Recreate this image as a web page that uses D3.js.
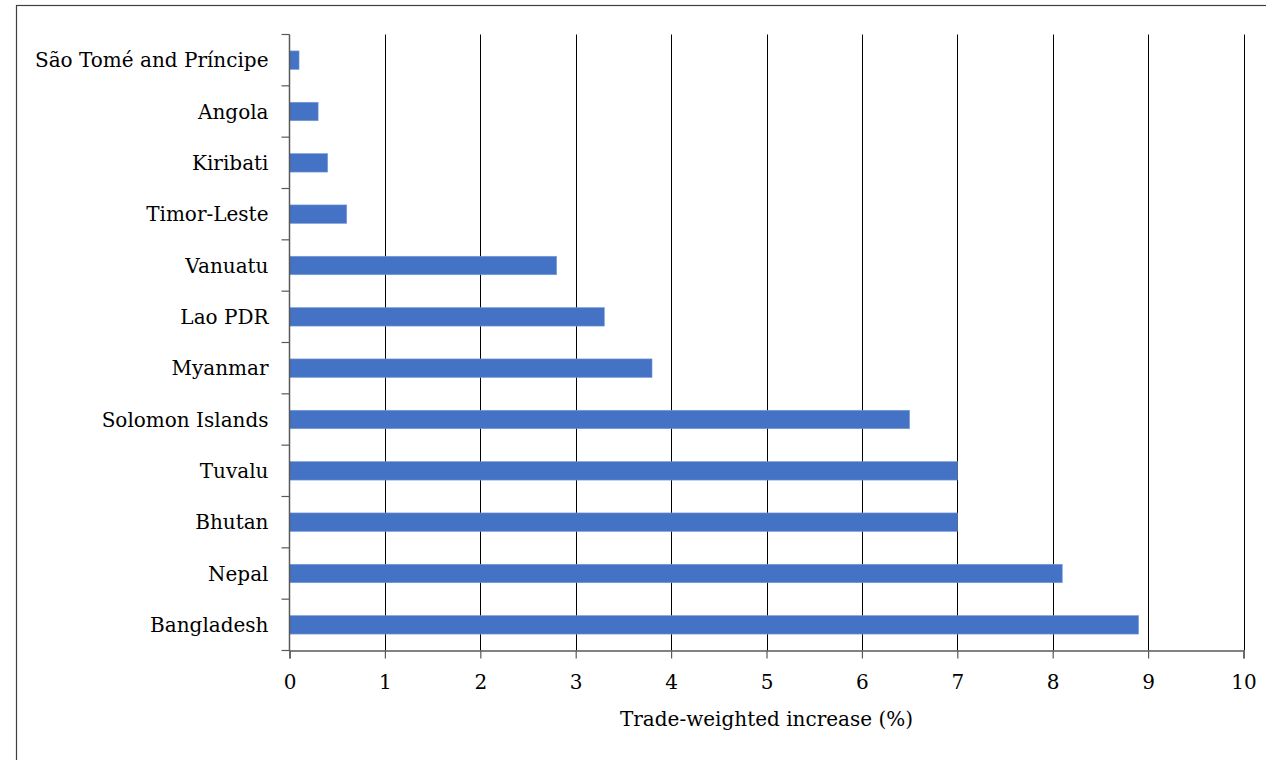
<!DOCTYPE html>
<html lang="en">
<head>
  <meta charset="UTF-8">
  <title>Trade-weighted increase</title>
  <style>
    body { margin: 0; background: #fff; }
    text { font-family: "DejaVu Serif", serif; fill: #000; }
  </style>
</head>
<body>
  <script src="https://d3js.org/d3.v7.min.js"></script>
  <script>
    const countries = ['São Tomé and Príncipe', 'Angola', 'Kiribati', 'Timor-Leste', 'Vanuatu', 'Lao PDR',
      'Myanmar', 'Solomon Islands', 'Tuvalu', 'Bhutan', 'Nepal', 'Bangladesh']
    const increase = [0.1, 0.3, 0.4, 0.6, 2.8, 3.3, 3.8, 6.5, 7.0, 7.0, 8.1, 8.9]
    const xTicks = [0, 1, 2, 3, 4, 5, 6, 7, 8, 9, 10]
    const xTitle = 'Trade-weighted increase (%)'

    const width = 1266
    const height = 760
    const margin = { left: 289.5, right: 22.5, top: 34.5, bottom: 109.5 }
    const fontSize = '20px'

    const svg = d3.select('body')
      .append('svg')
      .attr('width', width)
      .attr('height', height)

    // outer frame
    svg.append('rect')
      .attr('x', 16.5)
      .attr('y', 5.5)
      .attr('width', width)
      .attr('height', height)
      .attr('fill', 'none')
      .attr('stroke', '#404040')
      .attr('stroke-width', 1.2)

    const x = d3.scaleLinear()
      .domain([0, 10])
      .range([margin.left, width - margin.right])

    const y = d3.scaleBand()
      .domain(countries)
      .range([margin.top, height - margin.bottom])
      .paddingInner(0.64)
      .paddingOuter(0.32)

    const yLine = d3.scaleBand()
      .domain(countries)
      .range([margin.top, height - margin.bottom])

    // gridlines
    svg.append('g')
      .selectAll('line')
      .data(xTicks.slice(1))
      .enter()
      .append('line')
      .attr('x1', d => Math.round(x(d)) + 0.5)
      .attr('x2', d => Math.round(x(d)) + 0.5)
      .attr('y1', margin.top)
      .attr('y2', height - margin.bottom)
      .attr('stroke', '#000')
      .attr('stroke-width', 1)

    // bars
    svg.append('g')
      .selectAll('rect')
      .data(countries)
      .enter()
      .append('rect')
      .attr('x', x(0))
      .attr('y', d => y(d))
      .attr('width', (d, i) => x(increase[i]) - x(0))
      .attr('height', y.bandwidth())
      .attr('fill', '#4472C4')
      .attr('stroke', '#7a9bd6')
      .attr('stroke-width', 0.6)

    // x axis
    const xAxis = svg.append('g')
      .attr('transform', `translate(0,${height - margin.bottom})`)
      .call(d3.axisBottom(x).tickValues(xTicks).tickSize(8).tickPadding(16).tickFormat(d3.format('d')))
    xAxis.select('.domain').attr('stroke', '#595959').attr('stroke-width', 1.5)
    xAxis.selectAll('.tick line').attr('stroke', '#595959').attr('stroke-width', 1.2)
    xAxis.selectAll('.tick text')
      .style('font-family', '"DejaVu Serif", serif')
      .style('font-size', fontSize)
      .attr('fill', '#000')

    // y axis line
    svg.append('line')
      .attr('x1', x(0))
      .attr('x2', x(0))
      .attr('y1', margin.top)
      .attr('y2', height - margin.bottom)
      .attr('stroke', '#595959')
      .attr('stroke-width', 1.5)

    // y category ticks at band boundaries
    svg.append('g')
      .selectAll('line')
      .data(d3.range(countries.length + 1))
      .enter()
      .append('line')
      .attr('x1', x(0) - 8)
      .attr('x2', x(0))
      .attr('y1', i => margin.top + i * yLine.step())
      .attr('y2', i => margin.top + i * yLine.step())
      .attr('stroke', '#595959')
      .attr('stroke-width', 1.2)

    // y labels
    svg.append('g')
      .selectAll('text')
      .data(countries)
      .enter()
      .append('text')
      .attr('x', x(0) - 21)
      .attr('y', d => yLine(d) + yLine.bandwidth() / 2)
      .attr('dy', '0.35em')
      .attr('text-anchor', 'end')
      .style('font-size', fontSize)
      .text(d => d)

    // x title
    svg.append('text')
      .attr('x', (x(0) + x(10)) / 2)
      .attr('y', 726)
      .attr('text-anchor', 'middle')
      .style('font-size', fontSize)
      .text(xTitle)
  </script>
</body>
</html>
